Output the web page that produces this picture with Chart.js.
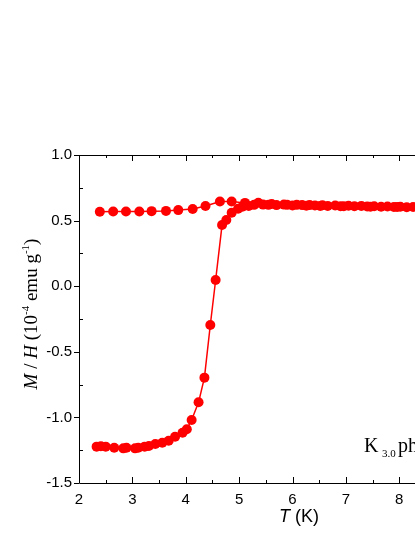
<!DOCTYPE html>
<html>
<head>
<meta charset="utf-8">
<script src="https://cdn.jsdelivr.net/npm/chart.js@4"></script>
<style>
  html, body { margin: 0; padding: 0; background: #fff; overflow: hidden; }
  #wrap { width: 540px; height: 537px; }
</style>
</head>
<body>
<div id="wrap"><canvas id="chart" width="540" height="537"></canvas></div>
<script>
// field-cooled branch (upper)
const fcT = [2.39, 2.64, 2.88, 3.13, 3.36, 3.63, 3.86, 4.13, 4.37, 4.64, 4.86, 5.11, 5.36, 5.61, 5.84,
  6.08, 6.32, 6.56, 6.80, 7.05, 7.29, 7.53, 7.78, 8.02, 8.26, 8.50, 8.75, 9.0, 9.25, 9.5];
const fcM = [0.568, 0.57, 0.57, 0.57, 0.572, 0.574, 0.58, 0.588, 0.611, 0.645, 0.645, 0.635, 0.636, 0.627, 0.622,
  0.62, 0.618, 0.617, 0.615, 0.613, 0.612, 0.61, 0.607, 0.605, 0.603, 0.602, 0.60, 0.60, 0.599, 0.598];

// zero-field-cooled branch (lower)
const zfcT = [2.33, 2.41, 2.50, 2.66, 2.83, 2.89, 3.05, 3.11, 3.23, 3.31, 3.43, 3.56, 3.68, 3.80, 3.94, 4.02,
  4.11, 4.24, 4.35, 4.46, 4.56, 4.68, 4.76, 4.86, 4.98, 5.06, 5.18, 5.28, 5.45, 5.55, 5.70, 5.90, 6.00,
  6.18, 6.26, 6.42, 6.52, 6.66, 6.90, 6.96, 7.16, 7.40, 7.46, 7.66, 7.90, 7.96, 8.14, 8.38, 8.62, 8.86, 9.1, 9.35];
const zfcM = [-1.223, -1.22, -1.223, -1.231, -1.236, -1.231, -1.236, -1.231, -1.223, -1.218, -1.203, -1.193,
  -1.178, -1.147, -1.117, -1.091, -1.02, -0.885, -0.697, -0.296, 0.047, 0.466, 0.505, 0.56, 0.59, 0.605,
  0.612, 0.62, 0.622, 0.62, 0.618, 0.62, 0.616, 0.618, 0.614, 0.616, 0.612, 0.612, 0.61, 0.61, 0.609,
  0.607, 0.606, 0.605, 0.604, 0.603, 0.602, 0.601, 0.60, 0.60, 0.599, 0.598];

const xTicks = [2, 3, 4, 5, 6, 7, 8, 9, 10];
const yTicks = [-1.5, -1.0, -0.5, 0.0, 0.5, 1.0];

const RED = '#ff0000';
const frame = {
  id: 'frame',
  afterDraw(chart) {
    const { ctx, chartArea: a, scales: { x, y } } = chart;
    ctx.save();
    ctx.strokeStyle = '#000';
    ctx.lineWidth = 1;
    ctx.beginPath();
    ctx.rect(a.left + 0.5, a.top + 0.5, a.right - a.left, a.bottom - a.top);
    ctx.stroke();
    ctx.beginPath();
    // x ticks: inward, bottom and top
    for (let v = 2; v <= 10; v += 0.5) {
      const px = Math.round(x.getPixelForValue(v)) + 0.5;
      const len = Number.isInteger(v) ? 6 : 3;
      ctx.moveTo(px, a.bottom); ctx.lineTo(px, a.bottom - len);
      ctx.moveTo(px, a.top); ctx.lineTo(px, a.top + len);
    }
    // y ticks: majors outward, minors inward
    for (let v = -1.5; v <= 1.0001; v += 0.25) {
      const py = Math.round(y.getPixelForValue(v)) + 0.5;
      const major = Math.abs(v * 2 - Math.round(v * 2)) < 1e-6;
      if (major) { ctx.moveTo(a.left, py); ctx.lineTo(a.left - 5, py); }
      else { ctx.moveTo(a.left, py); ctx.lineTo(a.left + 4, py); }
    }
    ctx.stroke();

    // axis titles
    ctx.fillStyle = '#000';
    ctx.textBaseline = 'alphabetic';
    // x title: T (K)
    ctx.font = 'italic 18px "Liberation Sans"';
    const tW = ctx.measureText('T').width;
    ctx.font = '18px "Liberation Sans"';
    const kW = ctx.measureText(' (K)').width;
    let sx = 299 - (tW + kW) / 2;
    ctx.font = 'italic 18px "Liberation Sans"';
    ctx.fillText('T', sx, 522);
    ctx.font = '18px "Liberation Sans"';
    ctx.fillText(' (K)', sx + tW, 522);

    // y title rotated
    ctx.save();
    ctx.translate(37, 314);
    ctx.rotate(-Math.PI / 2);
    const parts = [
      ['italic 19px "Liberation Serif"', 'M', 0],
      ['19px "Liberation Serif"', ' / ', 0],
      ['italic 19px "Liberation Serif"', 'H', 0],
      ['19px "Liberation Serif"', ' (10', 0],
      ['11px "Liberation Serif"', '-4', -8],
      ['19px "Liberation Serif"', ' emu g', 0],
      ['11px "Liberation Serif"', '-1', -8],
      ['19px "Liberation Serif"', ')', 0]
    ];
    let total = 0;
    parts.forEach(p => { ctx.font = p[0]; total += ctx.measureText(p[1]).width; });
    let cx = -total / 2;
    parts.forEach(p => {
      ctx.font = p[0];
      ctx.fillText(p[1], cx, p[2]);
      cx += ctx.measureText(p[1]).width;
    });
    ctx.restore();

    // sample label
    ctx.font = '20px "Liberation Serif"';
    ctx.fillText('K', 364, 452);
    ctx.font = '11px "Liberation Serif"';
    ctx.fillText('3.0', 382, 457);
    ctx.font = '20px "Liberation Serif"';
    ctx.fillText(' phenanthrene', 393, 452);
    ctx.restore();
  }
};

function series(xs, ys) {
  return {
    data: xs.map((t, i) => ({ x: t, y: ys[i] })),
    showLine: true,
    borderColor: RED,
    backgroundColor: RED,
    borderWidth: 1.5,
    pointRadius: 5,
    pointBorderWidth: 0,
    tension: 0
  };
}

new Chart(document.getElementById('chart'), {
  type: 'scatter',
  data: { datasets: [series(fcT, fcM), series(zfcT, zfcM)] },
  options: {
    responsive: false,
    animation: false,
    layout: { padding: { top: 155, right: 34, left: 0, bottom: 0 } },
    plugins: { legend: { display: false }, tooltip: { enabled: false } },
    scales: {
      x: {
        type: 'linear', min: 2, max: 10,
        afterBuildTicks: s => { s.ticks = xTicks.map(v => ({ value: v })); },
        afterFit: s => { s.height = 54; },
        grid: { display: false, drawTicks: false },
        border: { display: false },
        ticks: {
          padding: 8, color: '#000', font: { family: 'Liberation Sans', size: 15 },
          callback: v => String(v)
        }
      },
      y: {
        type: 'linear', min: -1.5, max: 1.0,
        afterBuildTicks: s => { s.ticks = yTicks.map(v => ({ value: v })); },
        afterFit: s => { s.width = 79; },
        grid: { display: false, drawTicks: false },
        border: { display: false },
        ticks: {
          padding: 7, color: '#000', font: { family: 'Liberation Sans', size: 15 },
          callback: v => v.toFixed(1)
        }
      }
    }
  },
  plugins: [frame]
});
</script>
</body>
</html>
